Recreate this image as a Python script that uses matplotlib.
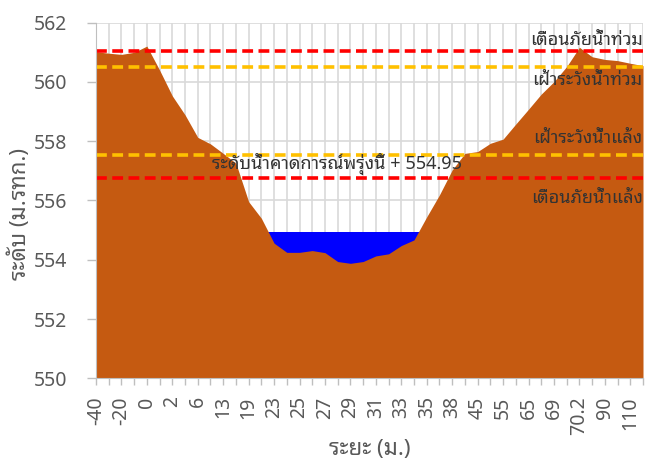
import matplotlib
matplotlib.use("Agg")
import matplotlib.pyplot as plt
import numpy as np

# cross-section: distance labels and bed elevation (m. MSL)
distance = ["-40", "-30", "-20", "-10", "0", "1", "2", "4", "6", "10",
            "13", "16", "19", "21", "23", "24", "25", "26", "27", "28",
            "29", "30", "31", "32", "33", "34", "35", "36", "38", "40",
            "45", "50", "55", "60", "65", "67", "69", "70", "70.2", "80",
            "90", "100", "110", "120"]
ground = [561.02, 560.97, 560.93, 561.00, 561.21, 560.40, 559.53, 558.89, 558.13, 557.91,
          557.59, 557.26, 555.96, 555.40, 554.56, 554.25, 554.25, 554.31, 554.24, 553.94,
          553.88, 553.94, 554.13, 554.20, 554.48, 554.67, 555.45, 556.19, 557.03, 557.59,
          557.65, 557.93, 558.07, 558.58, 559.08, 559.59, 560.01, 560.52, 561.17, 560.85,
          560.76, 560.72, 560.63, 560.55]

water_level = 554.95
flood_warn = 561.05
flood_watch = 560.5
drought_watch = 557.55
drought_warn = 556.75

thai = ["Noto Sans Thai Looped", "Noto Sans", "DejaVu Sans"]
plt.rcParams["font.family"] = thai

x = np.arange(len(ground))
fig = plt.figure(figsize=(6.45, 4.61), dpi=100)
ax = fig.add_axes([0.1488, 0.1794, 0.9969 - 0.1488, 0.9508 - 0.1794])

# water sits behind the bank, so only the part below the level shows
ax.fill_between(x, 550, water_level, color="#0000FF", lw=0, zorder=2)
ax.fill_between(x, 550, ground, color="#C55A11", lw=0, zorder=3)

dash = (3, 1.5)
ax.axhline(flood_warn, color="#FF0000", lw=2.6, dashes=dash, zorder=4)
ax.axhline(flood_watch, color="#FFC000", lw=2.6, dashes=dash, zorder=4)
ax.axhline(drought_watch, color="#FFC000", lw=2.6, dashes=dash, zorder=4)
ax.axhline(drought_warn, color="#FF0000", lw=2.6, dashes=dash, zorder=4)

txt = dict(fontsize=13, color="#333333", clip_on=False, zorder=5,
           va="baseline", fontweight="light")
right = len(ground) - 1.02
ax.text(right, 561.24, "เตือนภัยน้ำท่วม", ha="right", **txt)
ax.text(right, 559.90, "เฝ้าระวังน้ำท่วม", ha="right", **txt)
ax.text(right, 557.95, "เฝ้าระวังน้ำแล้ง", ha="right", **txt)
ax.text(right, 555.93, "เตือนภัยน้ำแล้ง", ha="right", **txt)
ax.text(9.15, 557.05, "ระดับน้ำคาดการณ์พรุ่งนี้ + %.2f" % water_level, **txt)

ax.set_xlim(0, len(ground) - 1)
ax.set_ylim(550, 562)
ax.set_yticks(np.arange(550, 563, 2))
ax.set_xticks(x)
ax.set_xticklabels([d if i % 2 == 0 else "" for i, d in enumerate(distance)],
                   rotation=90)
ax.tick_params(axis="both", colors="#BFBFBF", labelcolor="#595959",
               labelsize=14, width=1)
ax.tick_params(axis="y", length=6.5, pad=14)
ax.tick_params(axis="x", length=5, pad=8)
for lab in ax.get_xticklabels() + ax.get_yticklabels():
    lab.set_family(["Noto Sans", "DejaVu Sans"])

ax.grid(True, color="#D9D9D9", lw=1.2, zorder=0)
ax.set_axisbelow(True)
for side in ("top", "right"):
    ax.spines[side].set_visible(False)
for side in ("left", "bottom"):
    ax.spines[side].set_color("#BFBFBF")
    ax.spines[side].set_zorder(6)

ax.set_xlabel("ระยะ (ม.)", fontsize=16, fontweight="bold", color="#595959")
ax.set_ylabel("ระดับ (ม.รทก.)", fontsize=16, fontweight="bold", color="#595959")
ax.xaxis.set_label_coords(0.5, -0.172)
ax.yaxis.set_label_coords(-0.118, 0.463)

fig.savefig("out.png", dpi=100)
